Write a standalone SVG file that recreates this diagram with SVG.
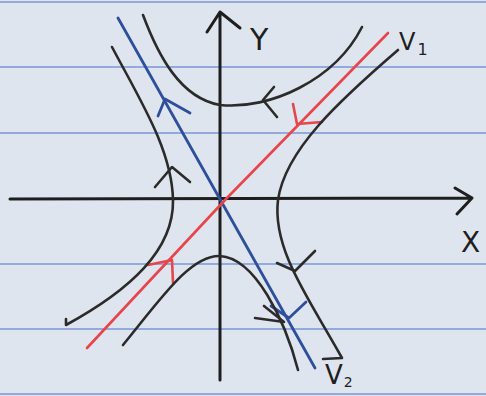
<svg xmlns="http://www.w3.org/2000/svg" width="486" height="396" viewBox="0 0 486 396">
<style>
.rule{stroke:#7b96d6;stroke-width:1.5}
.ax{fill:none;stroke:#1e1e1e;stroke-width:3;stroke-linecap:round;stroke-linejoin:round}
.tr{fill:none;stroke:#2b2b2b;stroke-width:2.6;stroke-linecap:round;stroke-linejoin:round}
.red{fill:none;stroke:#e8454a;stroke-width:2.6;stroke-linecap:round;stroke-linejoin:round}
.blue{fill:none;stroke:#2e4f9c;stroke-width:2.8;stroke-linecap:round;stroke-linejoin:round}
.lbl{font-family:"DejaVu Sans","Liberation Sans",sans-serif;fill:#1e1e1e}
</style>
<rect width="486" height="396" fill="#dfe5ef"/>
<g id="paper-lines">
<line class="rule" x1="0" y1="2" x2="486" y2="2"/>
<line class="rule" x1="0" y1="67" x2="486" y2="67"/>
<line class="rule" x1="0" y1="133" x2="486" y2="133"/>
<line class="rule" x1="0" y1="264" x2="486" y2="264"/>
<line class="rule" x1="0" y1="329" x2="486" y2="329"/>
<line class="rule" x1="0" y1="394" x2="486" y2="394"/>
</g>
<g id="axes">
<path class="ax" d="M10,199 L472,198 M455,188 L472,198 L457,214"/>
<path class="ax" d="M220,380 L220,12 M207,32 L220,12 L240,28"/>
<text class="lbl" x="250" y="50" font-size="30">Y</text>
<text class="lbl" x="461" y="252" font-size="28">X</text>
</g>
<g id="connectors">
<g id="eigen-v2">
<path class="blue" d="M118,18 L315,368"/>
<path class="blue" d="M158,116 L165,99 L190,113"/>
<path class="blue" d="M271,306 L289,318 L306,302"/>
<text class="lbl" x="325" y="384" font-size="26">V<tspan font-size="14" dx="1" dy="3">2</tspan></text>
</g>
<g id="eigen-v1">
<path class="red" d="M87,348 L225,200 L388,33"/>
<path class="red" d="M293,104 L297,124 L322,122"/>
<path class="red" d="M148,265 L172,260 L173,283"/>
<text class="lbl" x="399" y="50" font-size="24">V<tspan font-size="16" dx="2" dy="5">1</tspan></text>
</g>
<g id="traj-top">
<path class="tr" d="M143,15 C158,55 180,98 220,105 C270,110 335,80 362,27"/>
<path class="tr" d="M274,87 L263,100 L277,117"/>
</g>
<g id="traj-left">
<path class="tr" d="M112,47 C140,100 172,150 173,200 C174,250 130,290 66,325 L66,319"/>
<path class="tr" d="M155,187 L172,167 L190,182"/>
</g>
<g id="traj-right">
<path class="tr" d="M398,50 C340,100 285,150 278,200 C272,250 310,300 342,358 L323,359"/>
<path class="tr" d="M277,263 L295,271 L315,251"/>
</g>
<g id="traj-bottom">
<path class="tr" d="M123,345 C160,300 190,255 220,256 C255,258 285,320 298,370"/>
<path class="tr" d="M255,318 L284,322 L264,306"/>
</g>
</g>
</svg>
